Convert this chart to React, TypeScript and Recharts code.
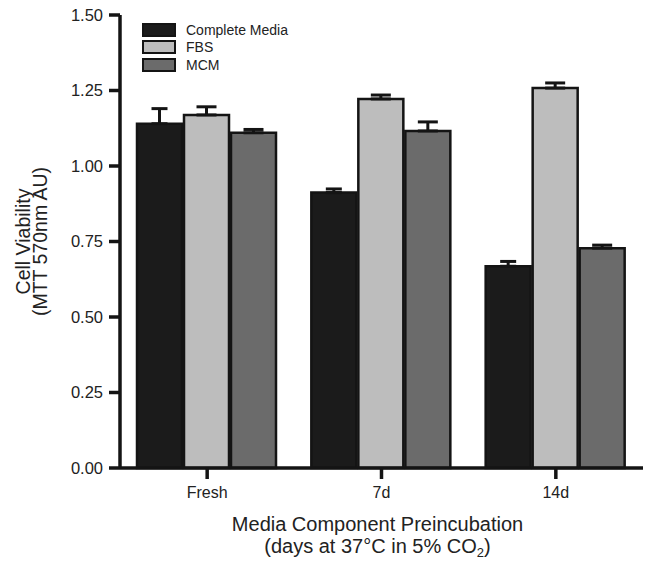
import { Bar, BarChart, ErrorBar, Label, Legend, XAxis, YAxis } from 'recharts';

const categories = ['Fresh', '7d', '14d'];
const completeMedia = [1.14, 0.912, 0.668];
const completeMediaErr = [0.05, 0.012, 0.016];
const fbs = [1.169, 1.222, 1.258];
const fbsErr = [0.027, 0.013, 0.017];
const mcm = [1.11, 1.116, 0.728];
const mcmErr = [0.011, 0.03, 0.01];
const yTicks = [0, 0.25, 0.5, 0.75, 1.0, 1.25, 1.5];

const seriesNames = ['Complete Media', 'FBS', 'MCM'];
const seriesColors = ['#1b1b1b', '#bdbdbd', '#6b6b6b'];

const FONT = '"Liberation Sans", Arial, sans-serif';
const INK = '#141414';

// errors only go upwards, so lower bound is 0
const rows = categories.map((name, i) => ({
  name,
  cm: completeMedia[i],
  cmErr: [0, completeMediaErr[i]],
  fbs: fbs[i],
  fbsErr: [0, fbsErr[i]],
  mcm: mcm[i],
  mcmErr: [0, mcmErr[i]],
}));

function LegendBox() {
  return (
    <div style={{ fontFamily: FONT, fontSize: 14, color: '#222', textAlign: 'left' }}>
      {seriesNames.map((n, i) => (
        <div key={n} style={{ display: 'flex', alignItems: 'center', height: 17.5 }}>
          <span
            style={{
              display: 'inline-block',
              width: 30,
              height: 10,
              background: seriesColors[i],
              border: `2.5px solid ${INK}`,
              marginRight: 10,
            }}
          />
          <span>{n}</span>
        </div>
      ))}
    </div>
  );
}

function YTitle({ viewBox }: any) {
  const cy = viewBox.y + viewBox.height / 2;
  const style = { fontFamily: FONT, fontSize: 19.5, fill: '#222' };
  return (
    <g>
      <text x={30} y={cy} transform={`rotate(-90, 30, ${cy})`} textAnchor="middle" style={style}>
        Cell Viability
      </text>
      <text x={47} y={cy} transform={`rotate(-90, 47, ${cy})`} textAnchor="middle" style={style}>
        (MTT 570nm AU)
      </text>
    </g>
  );
}

function XTitle({ viewBox }: any) {
  const cx = viewBox.x + viewBox.width / 2 - 4;
  const style = { fontFamily: FONT, fontSize: 20, fill: '#222' };
  return (
    <g>
      <text x={cx} y={viewBox.y + 63} textAnchor="middle" style={style}>
        Media Component Preincubation
      </text>
      <text x={cx} y={viewBox.y + 85} textAnchor="middle" style={style}>
        (days at 37°C in 5% CO
        <tspan dy={4} fontSize={13}>2</tspan>
        <tspan dy={-4}>)</tspan>
      </text>
    </g>
  );
}

export default function App() {
  return (
    <div style={{ width: 645, height: 561, background: '#fff' }}>
      <style>{'body{margin:0}'}</style>
      <BarChart
        width={645}
        height={561}
        data={rows}
        margin={{ top: 15, right: 2, left: 0, bottom: 0 }}
        barGap={2}
        barCategoryGap={17}
      >
        <XAxis
          dataKey="name"
          height={93}
          axisLine={{ stroke: INK, strokeWidth: 3.5 }}
          tickLine={{ stroke: INK, strokeWidth: 3.5 }}
          tickSize={11}
          tickMargin={8}
          tick={{ fontSize: 16, fill: '#222', fontFamily: FONT }}
        >
          <Label content={<XTitle />} />
        </XAxis>
        <YAxis
          width={120}
          domain={[0, 1.5]}
          ticks={yTicks}
          interval={0}
          tickFormatter={(v: number) => v.toFixed(2)}
          axisLine={{ stroke: INK, strokeWidth: 3.5 }}
          tickLine={{ stroke: INK, strokeWidth: 3.5 }}
          tickSize={11}
          tickMargin={6}
          tick={{ fontSize: 16.5, fill: '#222', fontFamily: FONT }}
        >
          <Label content={<YTitle />} />
        </YAxis>
        <Legend
          layout="horizontal"
          verticalAlign="middle"
          align="center"
          content={<LegendBox />}
          wrapperStyle={{ top: 21, left: 142, width: 200 }}
        />
        <Bar dataKey="cm" fill={seriesColors[0]} stroke={INK} strokeWidth={2.5} isAnimationActive={false}>
          <ErrorBar dataKey="cmErr" width={8} stroke={INK} strokeWidth={3} isAnimationActive={false} />
        </Bar>
        <Bar dataKey="fbs" fill={seriesColors[1]} stroke={INK} strokeWidth={2.5} isAnimationActive={false}>
          <ErrorBar dataKey="fbsErr" width={10} stroke={INK} strokeWidth={3} isAnimationActive={false} />
        </Bar>
        <Bar dataKey="mcm" fill={seriesColors[2]} stroke={INK} strokeWidth={2.5} isAnimationActive={false}>
          <ErrorBar dataKey="mcmErr" width={10} stroke={INK} strokeWidth={3} isAnimationActive={false} />
        </Bar>
      </BarChart>
    </div>
  );
}
